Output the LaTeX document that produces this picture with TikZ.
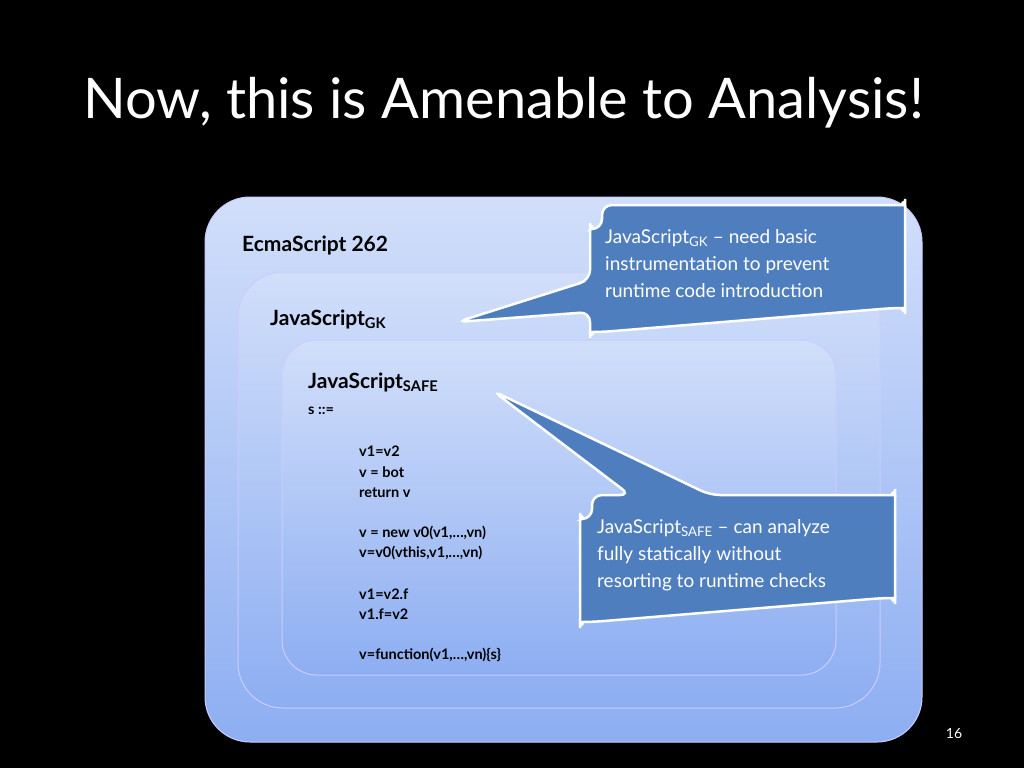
\documentclass[tikz,border=0pt]{standalone}
\usepackage{fontspec}
\setmainfont{Lato}
\begin{document}
\begin{tikzpicture}[x=1pt,y=-1pt,
 box/.style={rounded corners=45pt,draw=white!80!blue,line width=1pt,top color=#1!40!white,bottom color=#1},
 call/.style={fill=calbl,draw=white,line width=2.5pt,rounded corners=10pt},
 ct/.style={anchor=north west,text=white,font=\fontsize{19}{27}\selectfont,align=left,inner sep=0pt},
 code/.style={anchor=west,font=\bfseries\fontsize{14.5}{16}\selectfont,inner sep=0pt},
 cm/.style={code,text=gray!80!black}]
\definecolor{calbl}{HTML}{4F7EBF}
\definecolor{bxb}{HTML}{8DAEF2}
\fill[black] (0,0) rectangle (1024,768);
\useasboundingbox (0,0) rectangle (1024,768);
\node[anchor=base west,text=white,font=\fontsize{56}{60}\selectfont,inner sep=0pt] (title) at (83,118) {Now, this is Amenable to Analysis!};
\draw[box=bxb] (205,197) rectangle (922,742);
\draw[box=bxb] (238,272) rectangle (880,708);
\draw[box=bxb,rounded corners=35pt] (282,340) rectangle (836,675);
\node[anchor=base west,font=\bfseries\fontsize{21}{24}\selectfont,inner sep=0pt] (ecma) at (242,251) {EcmaScript 262};
\node[anchor=base west,font=\bfseries\fontsize{21}{24}\selectfont,inner sep=0pt] (gk) at (270,325) {JavaScript\textsubscript{GK}};
\node[anchor=base west,font=\bfseries\fontsize{21}{24}\selectfont,inner sep=0pt] (safe) at (308,388) {JavaScript\textsubscript{SAFE}};
\node[code] (s) at (308,411) {s ::=};
\foreach \t/\st [count=\i from 0] in {// assignments/cm,v1=v2/code,v = bot/code,return v/code,// calls/cm,{v = new v0(v1,\dots,vn)}/code,{v=v0(vthis,v1,\dots,vn)}/code,// heap/cm,v1=v2.f/code,v1.f=v2/code,// declarations/cm,{v=function(v1,\dots,vn)\{s\}}/code}
  \node[\st] (c\i) at (359,{431+20.4*\i}) {\t};
\coordinate (tip1) at (457,322);
\coordinate (tip2) at (493,391);
\draw[call] (602,205) -- (893,205) arc(90:0:12) -- (905,320) arc(0:-90:12) -- (602,332) arc(270:180:12) -- (590,312) -- (tip1) -- (590,280) -- (590,217) arc(180:90:12) -- cycle;
\node[ct] (t1) at (605,229) {JavaScript\textsubscript{GK} – need basic\\instrumentation to prevent\\runtime code introduction};
\draw[call] (592,495) -- (630,495) -- (tip2) -- (710,495) -- (883,495) arc(90:0:12) -- (895,610) arc(0:-90:12) -- (592,622) arc(270:180:12) -- (580,507) arc(180:90:12) -- cycle;
\node[ct] (t2) at (597,519) {JavaScript\textsubscript{SAFE} – can analyze\\fully statically without\\resorting to runtime checks};
\node[text=white,font=\fontsize{14}{16}\selectfont] (pg) at (954,734) {16};
\end{tikzpicture}
\end{document}
